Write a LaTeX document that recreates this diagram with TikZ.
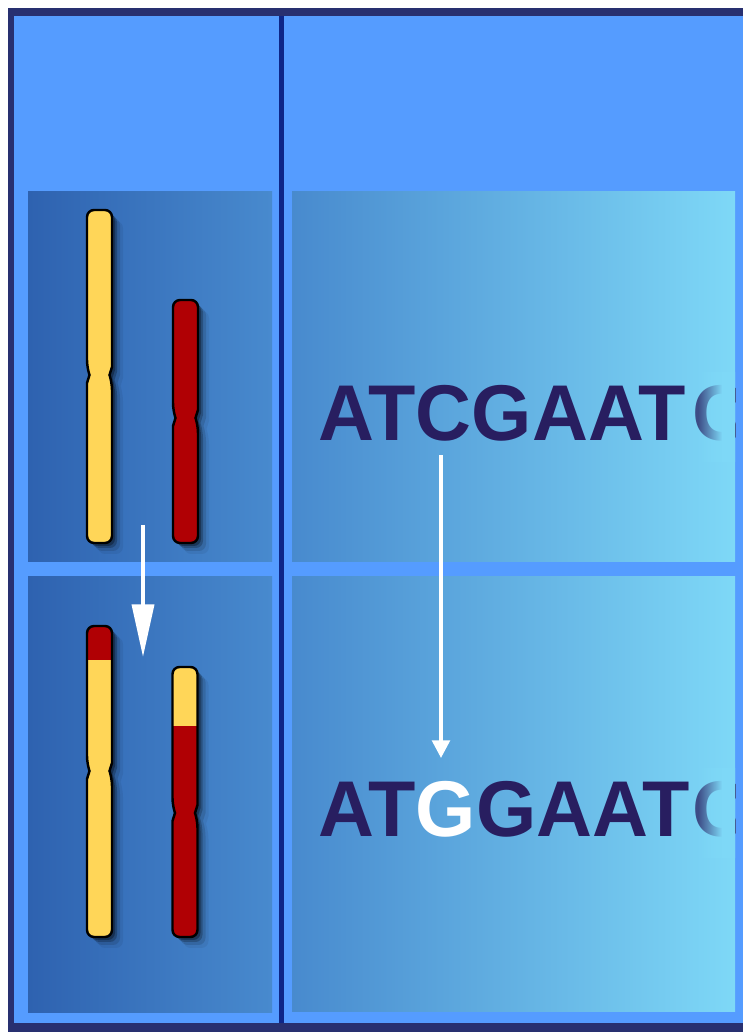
\documentclass[tikz,border=0pt]{standalone}
\usepackage{fontspec}
\setmainfont{Liberation Sans}
\usetikzlibrary{arrows.meta,fadings}

\definecolor{frameblue}{RGB}{40,48,112}
\definecolor{skyblue}{RGB}{85,156,255}
\definecolor{divblue}{RGB}{14,38,135}
\definecolor{panelL}{RGB}{46,98,176}
\definecolor{panelM}{RGB}{72,138,206}
\definecolor{panelR}{RGB}{126,216,247}
\definecolor{chromyellow}{RGB}{255,214,88}
\definecolor{chromred}{RGB}{176,0,4}
\definecolor{basecolor}{RGB}{40,30,96}

% outline of one chromosome: centre x, top, bottom, centromere
\newcommand{\chromo}[4]{(#1-12.5,#4-8) [rounded corners=4pt] -- (#1-12.5,#3) -- (#1+12.5,#3) -- (#1+12.5,#4-8) [sharp corners] -- (#1+10,#4) -- (#1+12.5,#4+8) [rounded corners=4pt] -- (#1+12.5,#2) -- (#1-12.5,#2) -- (#1-12.5,#4+8) [sharp corners] -- (#1-10,#4) -- cycle}

% chromosome with shadow and a coloured tip: x, top, bottom, centromere, colour, tip colour, tip end
\newcommand{\drawchromo}[7]{%
  \foreach \s/\o in {3/0.3,5/0.22,8/0.12,11/0.06}
    \fill[black,opacity=\o,shift={(\s,-\s)}] \chromo{#1}{#2}{#3}{#4};
  \fill[#5] \chromo{#1}{#2}{#3}{#4};
  \begin{scope}
    \clip \chromo{#1}{#2}{#3}{#4};
    \fill[#6] (#1-15,#2+2) rectangle (#1+15,#7);
  \end{scope}
  \draw[chromline] \chromo{#1}{#2}{#3}{#4};
}

\tikzset{
  chromline/.style={draw=black, line width=1.4pt},
  seq/.style={inner sep=0pt, anchor=base west, text=basecolor,
    font=\fontsize{45}{54}\selectfont\bfseries},
  swaparrow/.style={white, line width=2.2pt, -{Triangle[length=30pt,width=12.5pt]}},
  mutarrow/.style={white, line width=2pt, -{Triangle[length=10pt,width=10pt]}}
}

\begin{document}
\begin{tikzpicture}[x=0.02cm, y=0.02cm]
  \useasboundingbox (0,0) rectangle (743,1032);

  % Frame and background
  \fill[white] (0,0) rectangle (743,1032);
  \fill[frameblue] (8,0) rectangle (743,1024);
  \fill[skyblue] (14,9) rectangle (743,1016);
  \draw[divblue, line width=0.1cm] (281.5,9) -- (281.5,1016);

  % Panels - chromosomes (left), sequence (right)
  \shade[left color=panelL, right color=panelM] (28,470) rectangle (272,840);
  \shade[left color=panelL, right color=panelM] (28,19) rectangle (272,455);
  \shade[left color=panelM, right color=panelR] (292,470) rectangle (735,840);
  \shade[left color=panelM, right color=panelR] (292,20) rectangle (735,455);

  % Chromosomes before the exchange
  \drawchromo{99.5}{822}{489}{657}{chromyellow}{chromyellow}{822}
  \drawchromo{185.5}{732}{489}{614}{chromred}{chromred}{732}

  % Chromosomes after the exchange
  \drawchromo{99.5}{406}{95}{261}{chromyellow}{chromred}{372}
  \drawchromo{185}{365}{95}{219}{chromred}{chromyellow}{306}

  % Sequences, last letter running out of the panel
  \begin{scope}
    \clip (292,19) rectangle (735,840);
    \node[seq] (seqtop) at (318,591) {\scalebox{0.98}[1]{ATCGAAT}};
    \node[seq, text=basecolor!75!panelR] (seqtopend) at (692,591) {\scalebox{0.98}[1]{C}};
    \node[seq] (seqbot) at (318,195) {\scalebox{0.98}[1]{AT{\color{white}G}GAAT}};
    \node[seq, text=basecolor!75!panelR] (seqbotend) at (692,195) {\scalebox{0.98}[1]{C}};
    \fill[panelR, path fading=west] (698,570) rectangle (722,660);
    \fill[panelR] (722,570) rectangle (736,660);
    \fill[panelR, path fading=west] (698,174) rectangle (722,264);
    \fill[panelR] (722,174) rectangle (736,264);
  \end{scope}

  % Arrows
  \coordinate (swapfrom) at (143,507);
  \coordinate (swapto) at (143,375);
  \draw[swaparrow] (swapfrom) -- (swapto);

  \coordinate (mutfrom) at (441,577);
  \coordinate (mutto) at (441,274);
  \draw[mutarrow] (mutfrom) -- (mutto);
\end{tikzpicture}
\end{document}
